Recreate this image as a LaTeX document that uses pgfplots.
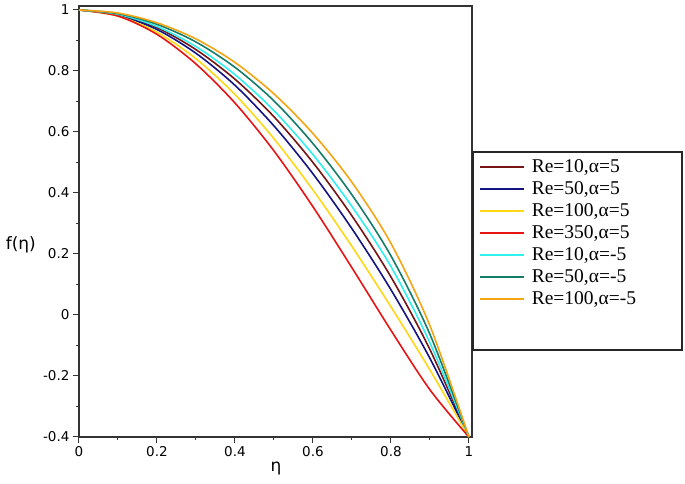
\documentclass[border=0pt]{standalone}
\usepackage{pgfplots}
\pgfplotsset{compat=1.18}
\usepackage{fontspec}
\setmainfont{DejaVu Sans}
\newfontfamily\legfont{Liberation Serif}

\definecolor{cMaroon}{RGB}{120,20,20}
\definecolor{cNavy}{RGB}{20,20,130}
\definecolor{cYellow}{RGB}{255,215,20}
\definecolor{cRed}{RGB}{230,20,20}
\definecolor{cCyan}{RGB}{50,240,240}
\definecolor{cTeal}{RGB}{20,125,105}
\definecolor{cOrange}{RGB}{245,165,20}

\begin{document}
\begin{tikzpicture}
\path[use as bounding box] (-79pt,-47pt) rectangle (606pt,437pt);
\begin{axis}[
  scale only axis,
  width=393pt, height=431pt,
  xmin=0, xmax=1.008,
  ymin=-0.4, ymax=1.013,
  clip=false,
  axis line style={draw=black!80, line width=1.3pt},
  tick pos=left, tick align=outside,
  major tick length=6pt, minor tick length=3pt,
  every tick/.style={black!80, line width=1pt},
  minor tick num=1,
  xtick={0,0.2,0.4,0.6,0.8,1},
  xticklabels={0,0.2,0.4,0.6,0.8,1},
  ytick={-0.4,-0.2,0,0.2,0.4,0.6,0.8,1},
  yticklabels={-0.4,-0.2,0,0.2,0.4,0.6,0.8,1},
  tick label style={font=\fontsize{13.5}{16}\selectfont},
  xlabel={η}, ylabel={f(η)},
  label style={font=\fontsize{17}{19}\selectfont},
  xlabel style={at={(axis description cs:0.501,-0.072)}, anchor=center},
  ylabel style={rotate=-90, at={(axis description cs:-0.148,0.445)}, anchor=center},
  legend cell align=left,
  legend image code/.code={\draw[#1] (0pt,0pt) -- (44pt,0pt); \path (51pt,0pt);},
  legend style={draw=none, fill=none, inner sep=0pt,
    at={(axis description cs:1.0178,0.652)}, anchor=north west,
    font=\legfont\fontsize{19.5}{22}\selectfont,
    nodes={inner xsep=0pt, inner ysep=2pt, text height=14pt, text depth=4pt}},
  every axis plot/.append style={line width=1.6pt, smooth},
]
\addplot[cMaroon] coordinates {(0,1) (0.1,0.985) (0.2,0.942) (0.3,0.870) (0.4,0.773) (0.5,0.650) (0.6,0.500) (0.7,0.325) (0.8,0.125) (0.9,-0.113) (1,-0.4)};
\addplot[cNavy] coordinates {(0,1) (0.1,0.983) (0.2,0.936) (0.3,0.858) (0.4,0.753) (0.5,0.620) (0.6,0.463) (0.7,0.283) (0.8,0.083) (0.9,-0.142) (1,-0.4)};
\addplot[cYellow] coordinates {(0,1) (0.1,0.980) (0.2,0.927) (0.3,0.840) (0.4,0.723) (0.5,0.578) (0.6,0.410) (0.7,0.225) (0.8,0.027) (0.9,-0.180) (1,-0.4)};
\addplot[cRed] coordinates {(0,1) (0.1,0.980) (0.2,0.920) (0.3,0.823) (0.4,0.695) (0.5,0.538) (0.6,0.355) (0.7,0.155) (0.8,-0.050) (0.9,-0.245) (1,-0.4)};
\addplot[cCyan] coordinates {(0,1) (0.1,0.986) (0.2,0.946) (0.3,0.880) (0.4,0.788) (0.5,0.670) (0.6,0.526) (0.7,0.356) (0.8,0.159) (0.9,-0.091) (1,-0.4)};
\addplot[cTeal] coordinates {(0,1) (0.1,0.988) (0.2,0.953) (0.3,0.895) (0.4,0.812) (0.5,0.702) (0.6,0.562) (0.7,0.394) (0.8,0.194) (0.9,-0.063) (1,-0.4)};
\addplot[cOrange] coordinates {(0,1) (0.1,0.990) (0.2,0.958) (0.3,0.905) (0.4,0.828) (0.5,0.725) (0.6,0.595) (0.7,0.435) (0.8,0.235) (0.9,-0.035) (1,-0.4)};
\legend{{Re=10,α=5}, {Re=50,α=5}, {Re=100,α=5}, {Re=350,α=5}, {Re=10,α=-5}, {Re=50,α=-5}, {Re=100,α=-5}}
\draw[black!85, line width=1.8pt] (axis description cs:1.0025,0.661) rectangle (axis description cs:1.534,0.2019);
\end{axis}
\end{tikzpicture}
\end{document}
